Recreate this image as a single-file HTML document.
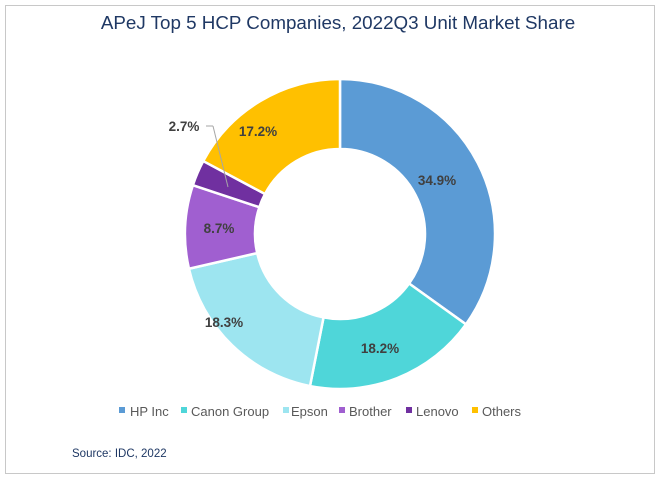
<!DOCTYPE html>
<html><head><meta charset="utf-8"><style>
body{margin:0;background:#fff;width:660px;height:479px;overflow:hidden;font-family:"Liberation Sans",sans-serif}
</style></head><body>
<svg width="660" height="479" xmlns="http://www.w3.org/2000/svg" id="s">
<rect x="5.5" y="5.5" width="649" height="468" fill="#fff" stroke="#c8c8c8"/>
<text x="338" y="29" text-anchor="middle" font-size="18.8" fill="#1f3864">APeJ Top 5 HCP Companies, 2022Q3 Unit Market Share</text>
<g id="pie"></g>
<line x1="206" y1="126" x2="213" y2="126" stroke="#a6a6a6"/>
<line x1="213" y1="126" x2="228" y2="187" stroke="#a6a6a6"/>
<g font-size="13.5" font-weight="bold" fill="#404040" text-anchor="middle">
<text x="437" y="185">34.9%</text>
<text x="380" y="353">18.2%</text>
<text x="224" y="327">18.3%</text>
<text x="219" y="233">8.7%</text>
<text x="184" y="131">2.7%</text>
<text x="258" y="136">17.2%</text>
</g>
<g font-size="13" fill="#595959">
<rect x="119" y="407" width="6" height="6" fill="#5b9bd5"/><text x="130" y="416">HP Inc</text>
<rect x="181" y="407" width="6" height="6" fill="#4fd6d9"/><text x="191" y="416">Canon Group</text>
<rect x="283" y="407" width="6" height="6" fill="#9de5f0"/><text x="291" y="416">Epson</text>
<rect x="339" y="407" width="6" height="6" fill="#a05fd0"/><text x="349" y="416">Brother</text>
<rect x="406" y="407" width="6" height="6" fill="#7030a0"/><text x="416" y="416">Lenovo</text>
<rect x="472" y="407" width="6" height="6" fill="#ffc000"/><text x="482" y="416">Others</text>
</g>
<text x="72" y="457" font-size="11.5" fill="#1f3864">Source: IDC, 2022</text>
</svg>
<script>
var v=[34.9,18.2,18.3,8.7,2.7,17.2],c=["#5b9bd5","#4fd6d9","#9de5f0","#a05fd0","#7030a0","#ffc000"];
var cx=340,cy=234,R=155,r=85,a=0,h="";
function p(rad,ang){return [cx+rad*Math.sin(ang),cy-rad*Math.cos(ang)];}
for(var i=0;i<v.length;i++){var a0=a*2*Math.PI/100;a+=v[i];var a1=a*2*Math.PI/100;var L=(a1-a0)>Math.PI?1:0;
var A=p(R,a0),B=p(R,a1),C=p(r,a1),D=p(r,a0);
h+='<path d="M'+A+' A'+R+','+R+' 0 '+L+' 1 '+B+' L'+C+' A'+r+','+r+' 0 '+L+' 0 '+D+'Z" fill="'+c[i]+'" stroke="#fff" stroke-width="2.5"/>';}
document.getElementById("pie").innerHTML=h;
</script>
</body></html>
